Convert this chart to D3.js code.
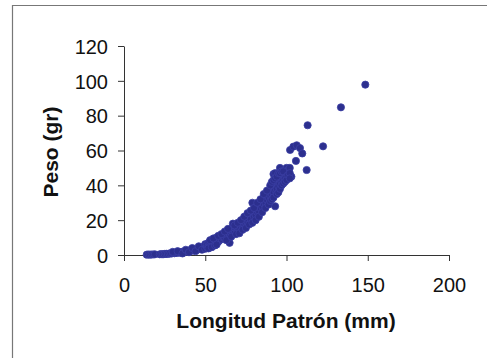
<!DOCTYPE html>
<html>
<head>
<meta charset="utf-8">
<script src="https://cdn.jsdelivr.net/npm/d3@7"></script>
<style>
html,body{margin:0;padding:0;background:#fff;}
svg{display:block;}
text{font-family:"Liberation Sans",Arial,sans-serif;fill:#111;}
</style>
</head>
<body>
<svg id="chart" width="487" height="358"></svg>
<script>
// Data: longitud patrón (mm) and peso (gr)
const longitud = [
 14,15,16,17,18,19,
 22,23,24,25,26,27,28,29,30,31,32,33,34,35,36,37,38,39,40,41,42,43,44,45,46,47,48,49,50,
 30,33,36,38,40,42,44,46,48,50,50,
 51,51,52,52,53,53,54,54,55,55,56,56,57,57,58,58,59,59,60,60,61,61,62,62,63,63,64,64,65,65,65,66,66,
 67,67,68,68,69,69,70,70,71,71,72,72,73,73,74,74,75,75,76,76,77,77,78,78,79,79,80,80,
 81,81,82,82,83,83,84,84,85,85,86,86,87,87,88,88,89,89,90,90,91,91,92,92,92,93,93,93,94,94,95,95,96,96,97,97,98,98,99,99,100,100,101,102,103,
 52,53,54,55,56,57,58,
 60,62,63,64,66,67,68,69,70,71,72,73,74,75,76,77,78,79,80,81,82,83,84,85,86,87,88,89,90,90,91,91,92,92,93,94,94,95,95,96,96,97,97,98,98,99,100,100,101,102,102,
 102.2,104.2,106.3,108.3,109.7,105.8,112.4,113,122.5,133.5,148.5
];
const peso = [
 0.2,0.3,0.2,0.3,0.3,0.4,
 0.4,0.5,0.4,0.6,0.7,0.6,0.9,0.8,1.1,1.0,1.3,1.2,1.6,1.4,1.9,1.7,2.2,2.0,2.6,2.3,3.0,2.7,3.4,3.0,3.9,3.5,4.5,4.0,5.1,
 1.8,2.2,0.9,3.0,1.6,4.0,2.2,5.0,3.0,6.2,3.6,
 4.6,6.0,5.5,7.0,6.2,4.8,7.5,6.0,8.0,6.8,9.0,7.2,8.2,10.0,9.0,7.6,10.5,8.6,11.0,9.2,10.0,12.0,11.2,9.6,12.6,10.6,13.2,11.0,14.5,12.0,7.0,15.0,12.6,
 13.5,16.0,14.0,12.4,15.5,17.0,16.0,13.8,17.5,15.0,18.0,16.2,19.0,16.8,20.0,17.6,21.0,18.5,22.0,19.0,23.0,20.0,22.5,20.5,30.0,24.0,22.0,25.0,
 23.0,26.0,24.5,27.5,25.0,28.5,27.0,30.0,28.0,31.5,29.5,33.0,30.0,34.0,31.5,35.0,33.0,36.5,34.0,38.0,35.0,39.0,36.0,40.0,46.5,28.0,37.5,47.0,38.0,41.5,39.5,43.0,50.0,41.0,44.0,42.0,45.0,43.0,46.0,44.0,47.0,50.0,48.8,50.0,45.0,
 3.8,8.5,4.5,9.5,5.5,6.0,11.0,
 12.0,13.5,8.5,15.0,10.5,18.0,17.0,12.0,18.5,12.5,20.0,14.5,22.0,15.5,24.0,17.5,25.5,18.5,27.0,20.0,30.0,22.0,32.0,24.5,35.0,27.0,37.0,29.0,40.0,31.0,42.0,32.0,43.0,33.0,44.0,35.0,45.0,36.0,47.0,38.0,47.0,40.0,48.0,41.0,48.0,42.0,45.0,43.0,46.0,47.0,44.0,
 60.3,62.2,63.0,61.4,58.3,54.0,48.8,74.5,62.4,84.8,97.8
];
const xTicks = [0,50,100,150,200];
const yTicks = [0,20,40,60,80,100,120];
const xTitle = "Longitud Patrón (mm)";
const yTitle = "Peso (gr)";

const svg = d3.select("#chart");

// outer frame (left and top edges visible)
svg.append("path")
  .attr("d","M12.5,358 L12.5,5.5 L487,5.5")
  .attr("fill","none").attr("stroke","#777").attr("stroke-width",1.2);

const x = d3.scaleLinear().domain([0,200]).range([124,449]);
const y = d3.scaleLinear().domain([0,120]).range([255,46]);

const xAxis = svg.append("g").attr("transform","translate(0,255)")
  .call(d3.axisBottom(x).tickValues(xTicks).tickSize(6).tickSizeOuter(0));
xAxis.selectAll("text").attr("y",37).attr("dy",0).style("font-size","20px");

const yAxis = svg.append("g").attr("transform","translate(124,0)")
  .call(d3.axisLeft(y).tickValues(yTicks).tickSize(6).tickSizeOuter(0));
yAxis.selectAll("text").attr("x",-16).attr("dy","0.36em").style("font-size","20px");

[xAxis,yAxis].forEach(g=>{
  g.select(".domain").attr("stroke","#333");
  g.selectAll(".tick line").attr("stroke","#333");
  g.selectAll("text").attr("fill","#111");
});

const pts = longitud.map((l,i)=>({l, w: peso[i]}));
svg.append("g").selectAll("circle").data(pts).enter().append("circle")
  .attr("cx",d=>x(d.l)).attr("cy",d=>y(d.w)).attr("r",3.6)
  .attr("fill","#2c2f8e").attr("stroke","#3b3fa3").attr("stroke-width",0.8);

svg.append("text").attr("x",286).attr("y",328).attr("text-anchor","middle")
  .style("font-size","21px").style("font-weight","bold").text(xTitle);

svg.append("text").attr("transform","translate(58,152) rotate(-90)")
  .attr("text-anchor","middle")
  .style("font-size","21px").style("font-weight","bold").text(yTitle);
</script>
</body>
</html>
